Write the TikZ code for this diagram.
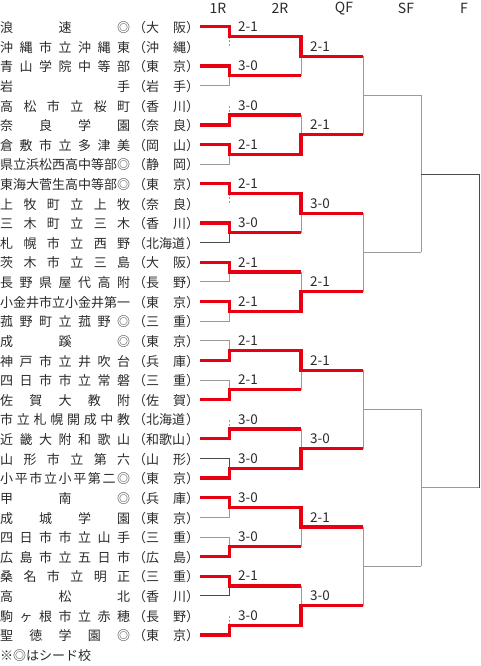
\documentclass[tikz,border=0pt]{standalone}
\usepackage{fontspec}
\setmainfont{Noto Sans CJK JP}
\definecolor{winred}{HTML}{E60012}
\definecolor{lgray}{HTML}{9A9A9A}
\definecolor{dgray}{HTML}{4A4A4A}
\definecolor{txt}{HTML}{2A2A2A}
\newcommand\tname[2]{\makebox[130pt][s]{#1}\hspace{3pt}（\makebox[40pt][s]{#2}）}
\begin{document}
\begin{tikzpicture}[x=1pt,y=-1pt,
  team/.style={font=\fontsize{13pt}{15pt}\selectfont, text=txt, inner sep=0pt, anchor=west, text height=10.5pt, text depth=2pt},
  score/.style={font=\fontsize{13.5pt}{15pt}\selectfont, text=txt, inner sep=0pt, anchor=base west},
  head/.style={font=\fontsize{14pt}{16pt}\selectfont, text=txt, inner sep=0pt},
  win/.style={draw=winred, line width=3.3pt, line join=miter, line cap=butt},
  lose/.style={draw=lgray, line width=0.8pt},
  losedark/.style={draw=dgray, line width=0.8pt},
  tick/.style={draw=lgray, line width=0.7pt, dash pattern=on 2pt off 1.5pt},
]
\useasboundingbox (0,0) rectangle (480,666);

% bracket coordinates
\foreach \i in {1,...,32}{\pgfmathsetmacro\yy{26.8+19.62*(\i-1)}\coordinate (r\i) at (200,\yy);}
\foreach \k in {1,...,16}{\pgfmathsetmacro\yy{26.8+19.62*(2*\k-1.5)}\coordinate (a\k) at (229.5,\yy);}
\foreach \j in {1,...,8}{\pgfmathsetmacro\yy{26.8+19.62*(4*\j-2.5)}\coordinate (b\j) at (301,\yy);}
\foreach \q in {1,...,4}{\pgfmathsetmacro\yy{26.8+19.62*(8*\q-4.5)}\coordinate (c\q) at (363,\yy);}
\foreach \s in {1,2}{\pgfmathsetmacro\yy{26.8+19.62*(16*\s-8.5)}\coordinate (d\s) at (421,\yy);}
\coordinate (e) at (479,{26.8+19.62*15.5});

% headers
\node[head] (h1) at (218,8.5) {1R};
\node[head] (h2) at (280,8.5) {2R};
\node[head] (h3) at (344,8.5) {QF};
\node[head] (h4) at (406,8.5) {SF};
\node[head] (h5) at (464,8.5) {F};

% teams
\foreach \i/\n/\p in {
 1/浪\hfill 速\hfill ◎/大\hfill 阪,
 2/沖\hfill 縄\hfill 市\hfill 立\hfill 沖\hfill 縄\hfill 東/沖\hfill 縄,
 3/青\hfill 山\hfill 学\hfill 院\hfill 中\hfill 等\hfill 部/東\hfill 京,
 4/岩\hfill 手/岩\hfill 手,
 5/高\hfill 松\hfill 市\hfill 立\hfill 桜\hfill 町/香\hfill 川,
 6/奈\hfill 良\hfill 学\hfill 園/奈\hfill 良,
 7/倉\hfill 敷\hfill 市\hfill 立\hfill 多\hfill 津\hfill 美/岡\hfill 山,
 8/県立浜松西高中等部◎/静\hfill 岡,
 9/東海大菅生高中等部◎/東\hfill 京,
 10/上\hfill 牧\hfill 町\hfill 立\hfill 上\hfill 牧/奈\hfill 良,
 11/三\hfill 木\hfill 町\hfill 立\hfill 三\hfill 木/香\hfill 川,
 12/札\hfill 幌\hfill 市\hfill 立\hfill 西\hfill 野/北海道,
 13/茨\hfill 木\hfill 市\hfill 立\hfill 三\hfill 島/大\hfill 阪,
 14/長\hfill 野\hfill 県\hfill 屋\hfill 代\hfill 高\hfill 附/長\hfill 野,
 15/小金井市立小金井第一/東\hfill 京,
 16/菰\hfill 野\hfill 町\hfill 立\hfill 菰\hfill 野\hfill ◎/三\hfill 重,
 17/成\hfill 蹊\hfill ◎/東\hfill 京,
 18/神\hfill 戸\hfill 市\hfill 立\hfill 井\hfill 吹\hfill 台/兵\hfill 庫,
 19/四\hfill 日\hfill 市\hfill 市\hfill 立\hfill 常\hfill 磐/三\hfill 重,
 20/佐\hfill 賀\hfill 大\hfill 教\hfill 附/佐\hfill 賀,
 21/市\hfill 立\hfill 札\hfill 幌\hfill 開\hfill 成\hfill 中\hfill 教/北海道,
 22/近\hfill 畿\hfill 大\hfill 附\hfill 和\hfill 歌\hfill 山/和歌山,
 23/山\hfill 形\hfill 市\hfill 立\hfill 第\hfill 六/山\hfill 形,
 24/小\hfill 平\hfill 市\hfill 立\hfill 小\hfill 平\hfill 第\hfill 二\hfill ◎/東\hfill 京,
 25/甲\hfill 南\hfill ◎/兵\hfill 庫,
 26/成\hfill 城\hfill 学\hfill 園/東\hfill 京,
 27/四\hfill 日\hfill 市\hfill 市\hfill 立\hfill 山\hfill 手/三\hfill 重,
 28/広\hfill 島\hfill 市\hfill 立\hfill 五\hfill 日\hfill 市/広\hfill 島,
 29/桑\hfill 名\hfill 市\hfill 立\hfill 明\hfill 正/三\hfill 重,
 30/高\hfill 松\hfill 北/香\hfill 川,
 31/駒\hfill ヶ\hfill 根\hfill 市\hfill 立\hfill 赤\hfill 穂/長\hfill 野,
 32/聖\hfill 徳\hfill 学\hfill 園\hfill ◎/東\hfill 京}
 {\pgfmathsetmacro\yy{28.3+19.62*(\i-1)}
  \node[team] (t\i) at (0,\yy) {\tname{\n}{\p}};}

% 1R losers
\foreach \l/\k in {4/2, 8/4, 14/7, 16/8, 17/9, 19/10, 26/13, 27/14}
  \draw[lose] (r\l) -| (a\k);
\foreach \l/\k in {12/6, 23/12, 30/15}
  \draw[losedark] (r\l) -| (a\k);
\foreach \l/\k in {2/1, 5/3, 10/5, 21/11, 31/16}
  \draw[tick] (a\k) -- (a\k |- r\l);

% 2R losers
\foreach \k/\j in {2/1, 3/2, 6/3, 7/4, 10/5, 11/6, 14/7, 15/8}
  \draw[lose] (a\k -| b\j) -- (b\j);

% QF
\draw[lose] (b1 -| c1) -- (b2 -| c1);
\draw[lose] (b3 -| c2) -- (b4 -| c2);
\draw[lose] (b5 -| c3) -- (b6 -| c3);
\draw[lose] (b7 -| c4) -- (b8 -| c4);
\draw[lose] (c1) -- (c1 -| d1);
\draw[lose] (c2) -- (c2 -| d1);
\draw[lose] (c3) -- (c3 -| d2);
\draw[lose] (c4) -- (c4 -| d2);

% SF
\draw[lose] (c1 -| d1) -- (c2 -| d1);
\draw[lose] (c3 -| d2) -- (c4 -| d2);
\draw[losedark] (d1) -- (d1 -| e);
\draw[lose] (d2) -- (d2 -| e);

% F
\draw[losedark] (d1 -| e) -- (d2 -| e);

% winners
\foreach \w/\k/\j in {3/2/1, 6/3/2, 11/6/3, 13/7/4, 20/10/5, 22/11/6, 28/14/7, 29/15/8}
  \draw[win] (r\w) -| (a\k) -- (a\k -| b\j);
\foreach \w/\k/\j/\q in {1/1/1/1, 7/4/2/1, 9/5/3/2, 15/8/4/2, 18/9/5/3, 24/12/6/3, 25/13/7/4, 32/16/8/4}
  \draw[win] (r\w) -| (a\k) -| (b\j) -- (b\j -| c\q);

% scores
\foreach \k/\sc in {1/2-1, 2/3-0, 3/3-0, 4/2-1, 5/2-1, 6/3-0, 7/2-1, 8/2-1, 9/2-1, 10/2-1, 11/3-0, 12/3-0, 13/3-0, 14/3-0, 15/2-1, 16/3-0}
  \node[score] (sa\k) at ([shift={(8.5,-5)}]a\k) {\sc};
\foreach \j/\sc in {1/2-1, 2/2-1, 3/3-0, 4/2-1, 5/2-1, 6/3-0, 7/2-1, 8/3-0}
  \node[score] (sb\j) at ([shift={(9,-5)}]b\j) {\sc};

% footnote
\node[team] (note) at (0,656) {※◎はシード校};
\end{tikzpicture}
\end{document}
